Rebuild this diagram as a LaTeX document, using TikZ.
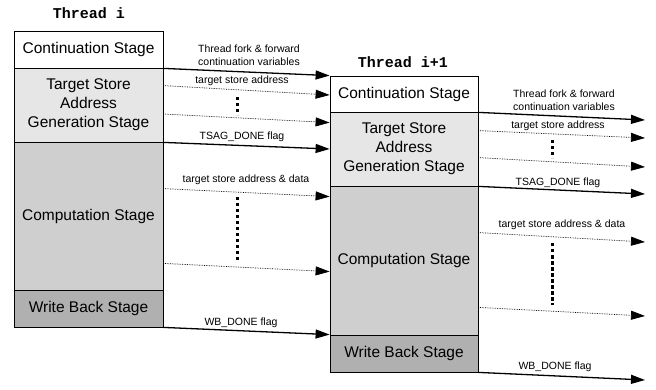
\documentclass[tikz,border=0pt]{standalone}
\usepackage{fontspec}
\setmainfont{Liberation Sans}
\newfontfamily\codefont{Liberation Mono}
\usetikzlibrary{arrows.meta}
\definecolor{tsagfill}{HTML}{E6E6E6}
\definecolor{compfill}{HTML}{CFCFCF}
\definecolor{wbfill}{HTML}{B0B0B0}
\tikzset{
  stage/.style={draw=black, line width=0.8pt, minimum width=149pt, inner sep=0pt,
    font=\fontsize{15.5}{19}\selectfont, align=center, text=black},
  title/.style={font=\codefont\bfseries\fontsize{15}{18}\selectfont},
  lbl/.style={font=\fontsize{10.5}{13}\selectfont, align=center, inner sep=0pt},
  tip/.style={-{Triangle[length=14pt,width=9pt]}},
  flow/.style={tip, line width=1.3pt},
  msg/.style={tip, line width=0.7pt, densely dotted},
  more/.style={line width=3pt, dash pattern=on 3.5pt off 2.5pt}
}
\begin{document}
\begin{tikzpicture}[x=1pt, y=-1pt]
\useasboundingbox (0,0) rectangle (656,390);

% Thread i
\node[title] (thi) at (89,13) {Thread i};
\node[stage, minimum height=37pt] (ci) at (88.5,49.5) {Continuation Stage};
\node[stage, minimum height=74pt, fill=tsagfill] (ti) at (88.5,105) {Target Store\\Address\\Generation Stage};
\node[stage, minimum height=148pt, fill=compfill] (pi) at (88.5,216) {Computation Stage};
\node[stage, minimum height=37pt, fill=wbfill] (wi) at (88.5,308.5) {Write Back Stage};

% Thread i+1
\node[title] (thj) at (403,62) {Thread i+1};
\node[stage, minimum width=148pt, minimum height=36pt] (cj) at (404,94) {Continuation Stage};
\node[stage, minimum width=148pt, minimum height=74pt, fill=tsagfill] (tj) at (404,149) {Target Store\\Address\\Generation Stage};
\node[stage, minimum width=148pt, minimum height=149pt, fill=compfill] (pj) at (404,260.5) {Computation Stage};
\node[stage, minimum width=148pt, minimum height=37pt, fill=wbfill] (wj) at (404,353.5) {Write Back Stage};

% Thread i -> Thread i+1
\draw[flow] (ci.south east) -- (cj.north west);
\draw[msg] ([yshift=-18pt]ti.north east) -- ([yshift=-1pt]cj.west);
\draw[msg] ([yshift=-9pt]ti.east) -- ([yshift=-11pt]tj.north west);
\draw[more] (237,97) -- (237,115);
\draw[flow] (ti.south east) -- (tj.west);
\draw[msg] ([yshift=-47pt]pi.north east) -- ([yshift=-11pt]pj.north west);
\draw[msg] ([yshift=27pt]pi.south east) -- ([yshift=-86pt]pj.north west);
\draw[more] (237,197) -- (237,260);
\draw[flow] (wi.south east) -- (wj.north west);

\node[lbl] (l1) at (249,55) {Thread fork \& forward\\continuation variables};
\node[lbl] (l2) at (242,81) {target store address};
\node[lbl] (l3) at (242,137) {TSAG\_DONE flag};
\node[lbl] (l4) at (246,180) {target store address \& data};
\node[lbl] (l5) at (241,323) {WB\_DONE flag};

% Thread i+1 -> next thread
\coordinate (r1) at (645,120);
\coordinate (r2) at (645,138);
\coordinate (r3) at (645,167);
\coordinate (r4) at (645,194);
\coordinate (r5) at (645,242);
\coordinate (r6) at (645,316);
\coordinate (r7) at (645,380);
\draw[flow] (cj.south east) -- (r1);
\draw[msg] ([yshift=-19pt]tj.north east) -- (r2);
\draw[msg] ([yshift=-46pt]tj.north east) -- (r3);
\draw[more] (552,140) -- (552,158);
\draw[flow] (tj.south east) -- (r4);
\draw[msg] ([yshift=-47pt]pj.north east) -- (r5);
\draw[msg] ([yshift=28pt]pj.south east) -- (r6);
\draw[more] (552,243) -- (552,305);
\draw[flow] (wj.south east) -- (r7);

\node[lbl] (m1) at (564,100) {Thread fork \& forward\\continuation variables};
\node[lbl] (m2) at (558,126) {target store address};
\node[lbl] (m3) at (558,183) {TSAG\_DONE flag};
\node[lbl] (m4) at (562,225) {target store address \& data};
\node[lbl] (m5) at (555,367) {WB\_DONE flag};
\end{tikzpicture}
\end{document}
